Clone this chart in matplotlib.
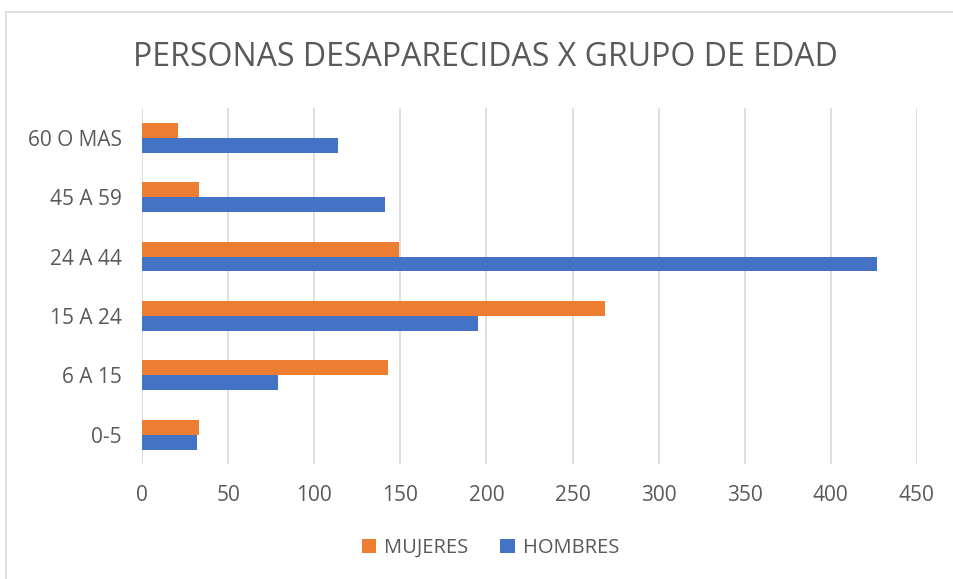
import numpy as np
import matplotlib
matplotlib.use("Agg")
import matplotlib.pyplot as plt
from matplotlib.patches import Rectangle

# data
grupos = ["0-5", "6 A 15", "15 A 24", "24 A 44", "45 A 59", "60 O MAS"]
mujeres = [33, 143, 269, 149, 33, 21]
hombres = [32, 79, 195, 427, 141, 114]
xticks = [0, 50, 100, 150, 200, 250, 300, 350, 400, 450]

plt.rcParams['font.family'] = ['Open Sans', 'DejaVu Sans']
gris = '#595959'

fig = plt.figure(figsize=(9.54, 5.79), dpi=100)
ax = fig.add_axes([0.149, 0.198, 0.812, 0.615])

y = np.arange(len(grupos))
h = 0.25
ax.barh(y + h/2, mujeres, height=h, color='#ED7D31', label='MUJERES', zorder=3)
ax.barh(y - h/2, hombres, height=h, color='#4472C4', label='HOMBRES', zorder=3)

ax.set_xlim(0, 450)
ax.set_ylim(-0.5, len(grupos) - 0.5)
ax.set_xticks(xticks)
ax.set_yticks(y)
ax.set_yticklabels(grupos)
ax.tick_params(axis='both', length=0, labelsize=15, colors=gris)
ax.tick_params(axis='x', pad=15)
ax.tick_params(axis='y', pad=14.5)
ax.grid(axis='x', color='#D9D9D9', linewidth=1.2, zorder=0)
for s in ax.spines.values():
    s.set_visible(False)

fig.text(0.509, 0.901, 'PERSONAS DESAPARECIDAS X GRUPO DE EDAD', ha='center', va='center',
         fontsize=23, color=gris)

fig.legend(loc='center', bbox_to_anchor=(0.514, 0.054), ncol=2, frameon=False,
           fontsize=14.5, labelcolor=gris, handlelength=0.7, handleheight=0.7,
           columnspacing=1.6, handletextpad=0.4)

# outer chart frame
fig.patches.append(Rectangle((0.006, -0.01), 1.0, 0.99, transform=fig.transFigure,
                             fill=False, edgecolor='#D9D9D9', linewidth=1.2))

fig.savefig('out.png', dpi=100)
